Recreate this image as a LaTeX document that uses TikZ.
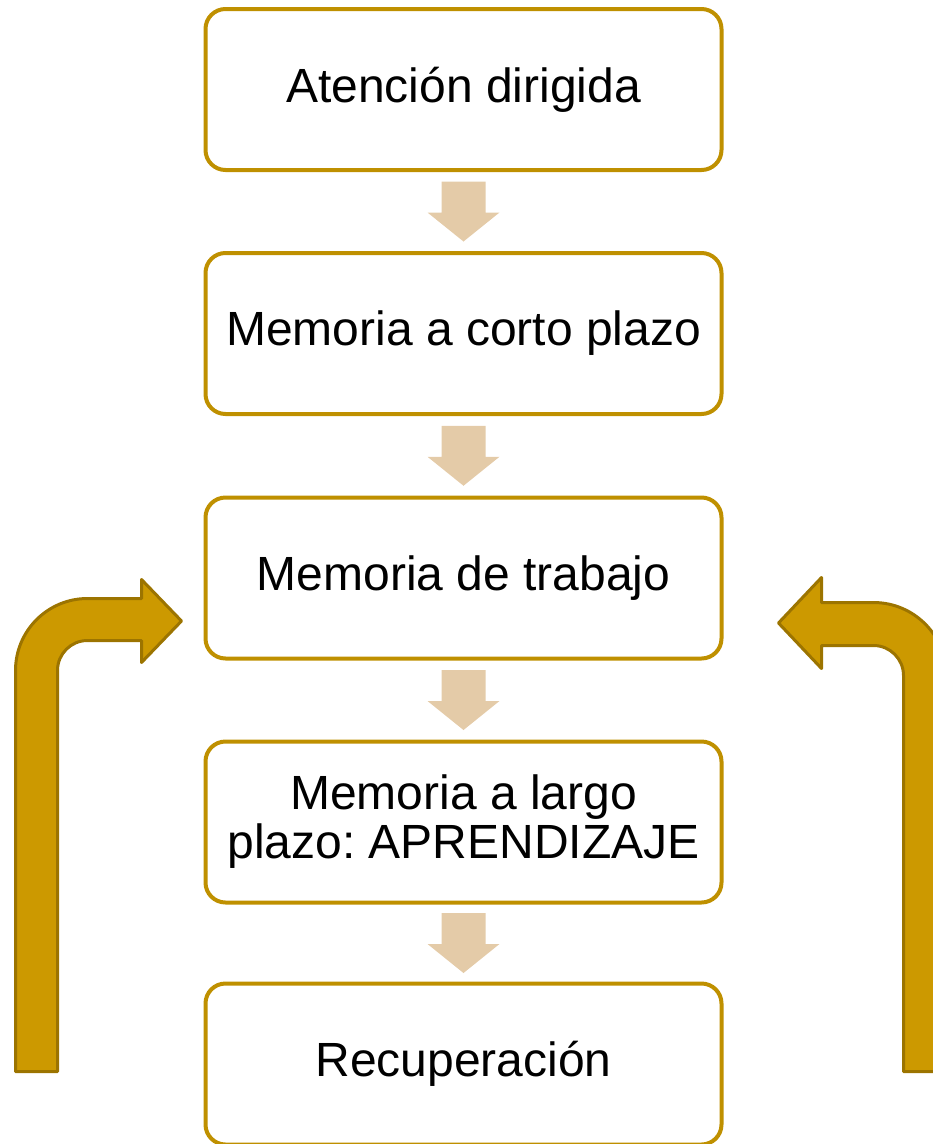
\documentclass[tikz,border=0pt]{standalone}
\usepackage{fontspec}
\setmainfont{Liberation Sans}
\usetikzlibrary{positioning,calc}
\frenchspacing

\definecolor{bordecaja}{HTML}{BF9000}
\definecolor{flechaclara}{HTML}{E4CBA8}
\definecolor{flechaoro}{HTML}{CC9900}
\definecolor{bordeoro}{HTML}{9C7400}

\tikzset{
    caja/.style={draw=bordecaja, line width=4pt, rounded corners=20pt, fill=white,
        minimum width=516pt, minimum height=161pt, align=center,
        font=\fontsize{48}{49}\selectfont},
    pasito/.style={fill=flechaclara},
    curva/.style={fill=flechaoro, draw=bordeoro, line width=3pt, line join=round}
}

% flecha clara entre dos cajas
\newcommand{\flechita}[2]{
    \coordinate (m) at ($(#1.south)!0.5!(#2.north)$);
    \fill[pasito] (m) ++(-22,-30) -- ++(44,0) -- ++(0,31) -- ++(14,0)
        -- ++(-36,29) -- ++(-36,-29) -- ++(14,0) -- cycle;
}

\begin{document}
\begin{tikzpicture}[x=1pt, y=-1pt]
    \useasboundingbox (0,0) rectangle (933,1144);
    \clip (0,0) rectangle (933,1144);

    % Cajas
    \node[caja] (atencion)   at (463.5,  89.5) {Atención dirigida};
    \node[caja] (corto)      at (463.5, 333.5) {Memoria a corto plazo};
    \node[caja] (trabajo)    at (463.5, 578)   {Memoria de trabajo};
    \node[caja] (largo)      at (463.5, 822)   {Memoria a largo\\plazo: APRENDIZAJE};
    \node[caja] (recupera)   at (463.5, 1064)  {Recuperación};

    % Flechas claras
    \flechita{atencion}{corto}
    \flechita{corto}{trabajo}
    \flechita{trabajo}{largo}
    \flechita{largo}{recupera}

    % Flecha curva izquierda (vuelve a la memoria de trabajo)
    \coordinate (puntaizq) at ([shift={(-22,43)}]trabajo.west);
    \draw[curva] (15.5,1071.5) -- (15.5,670.5) arc[start angle=180, end angle=270, radius=72]
        -- (141.5,598.5) -- (141.5,579.5) -- (puntaizq) -- (141.5,662.5) -- (141.5,640.5)
        -- (87.5,640.5) arc[start angle=270, end angle=180, radius=30] -- (57.5,1071.5) -- cycle;

    % Flecha curva derecha
    \coordinate (puntader) at ([shift={(55,45)}]trabajo.east);
    \draw[curva] (903.5,1071.5) -- (903.5,675.5) arc[start angle=0, end angle=-90, radius=30]
        -- (821.5,645.5) -- (821.5,668.5) -- (puntader) -- (821.5,577.5) -- (821.5,602.5)
        -- (873.5,602.5) arc[start angle=-90, end angle=0, radius=73] -- (946.5,1071.5) -- cycle;
\end{tikzpicture}
\end{document}
